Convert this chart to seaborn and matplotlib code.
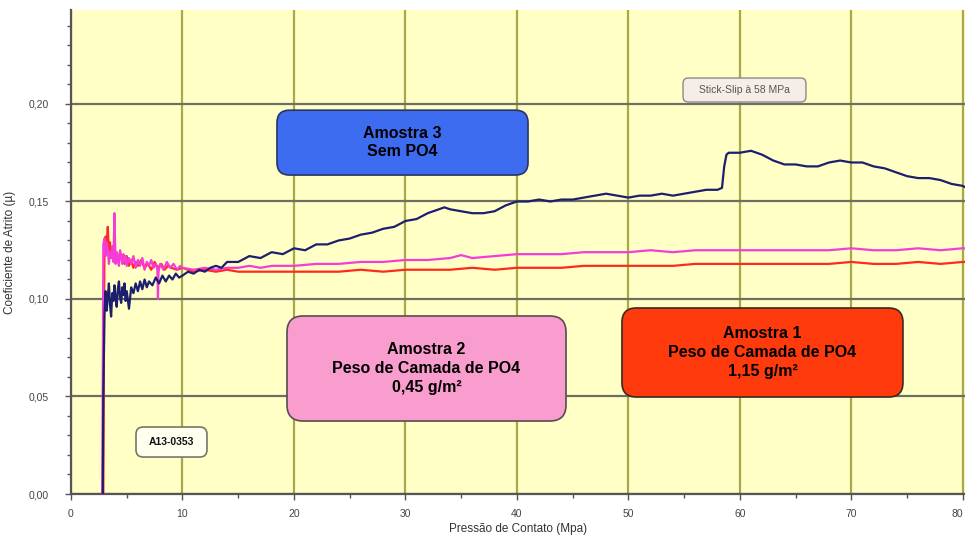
import matplotlib
matplotlib.use("Agg")
import matplotlib.pyplot as plt
import seaborn as sns
import pandas as pd
from matplotlib.patches import FancyBboxPatch
from matplotlib.ticker import MultipleLocator, FuncFormatter

# ---------------- data ----------------
a3_x = [2.85, 2.9, 3.0, 3.1, 3.2, 3.3, 3.4, 3.5, 3.6, 3.7, 3.8, 3.9, 4.0, 4.1, 4.2, 4.3,
        4.4, 4.5, 4.6, 4.7, 4.8, 4.9, 5.0, 5.2, 5.4, 5.6, 5.8, 6.0, 6.2, 6.4, 6.6, 6.8,
        7.0, 7.3, 7.6, 7.9, 8.2, 8.5, 8.8, 9.1, 9.4, 9.7, 10, 10.5, 11, 11.5, 12, 12.5,
        13, 13.5, 14, 15, 16, 17, 18, 19, 20, 21, 22, 23, 24, 25, 26, 27, 28, 29, 30,
        31, 32, 33, 33.5, 34, 35, 36, 37, 38, 39, 40, 41, 42, 43, 44, 45, 46, 47, 48,
        49, 50, 51, 52, 53, 54, 55, 56, 57, 58, 58.4, 58.6, 58.8, 59, 60, 61, 62, 63,
        64, 65, 66, 67, 68, 69, 70, 71, 72, 73, 74, 75, 76, 77, 78, 79, 80, 80.3]
a3_y = [0.0, 0.05, 0.092, 0.104, 0.094, 0.101, 0.108, 0.097, 0.091, 0.103, 0.099, 0.107,
        0.100, 0.096, 0.105, 0.109, 0.101, 0.098, 0.106, 0.102, 0.108, 0.099, 0.104,
        0.095, 0.106, 0.103, 0.108, 0.104, 0.109, 0.105, 0.110, 0.106, 0.109, 0.107,
        0.111, 0.108, 0.112, 0.109, 0.112, 0.110, 0.113, 0.111, 0.112, 0.114, 0.113,
        0.115, 0.114, 0.116, 0.117, 0.116, 0.119, 0.119, 0.122, 0.121, 0.124, 0.123,
        0.126, 0.125, 0.128, 0.128, 0.130, 0.131, 0.133, 0.134, 0.136, 0.137, 0.140,
        0.141, 0.144, 0.146, 0.147, 0.146, 0.145, 0.144, 0.144, 0.145, 0.148, 0.150,
        0.150, 0.151, 0.150, 0.151, 0.151, 0.152, 0.153, 0.154, 0.153, 0.152, 0.153,
        0.153, 0.154, 0.153, 0.154, 0.155, 0.156, 0.156, 0.157, 0.168, 0.174, 0.175,
        0.175, 0.176, 0.174, 0.171, 0.169, 0.169, 0.168, 0.168, 0.170, 0.171, 0.170,
        0.170, 0.168, 0.167, 0.165, 0.163, 0.162, 0.162, 0.161, 0.159, 0.158, 0.157]

a2_x = [2.8, 2.85, 2.9, 3.0, 3.1, 3.2, 3.3, 3.4, 3.5, 3.6, 3.7, 3.8, 3.9, 3.95, 4.0, 4.1,
        4.2, 4.3, 4.4, 4.5, 4.6, 4.7, 4.8, 4.9, 5.0, 5.2, 5.4, 5.6, 5.8, 6.0, 6.2, 6.4,
        6.6, 6.8, 7.0, 7.2, 7.4, 7.6, 7.75, 7.8, 7.85, 8.0, 8.3, 8.6, 8.9, 9.2, 9.5, 9.8,
        10, 11, 12, 13, 14, 15, 16, 17, 18, 19, 20, 22, 24, 26, 28, 30, 32, 34, 35, 36,
        38, 40, 42, 44, 46, 48, 50, 52, 54, 56, 58, 60, 62, 64, 66, 68, 70, 72, 74, 76,
        78, 80, 80.3]
a2_y = [0.0, 0.06, 0.128, 0.131, 0.122, 0.129, 0.126, 0.118, 0.124, 0.121, 0.127, 0.119,
        0.144, 0.130, 0.118, 0.124, 0.120, 0.117, 0.125, 0.122, 0.118, 0.123, 0.119,
        0.122, 0.117, 0.121, 0.118, 0.122, 0.116, 0.120, 0.117, 0.121, 0.115, 0.119,
        0.117, 0.120, 0.116, 0.118, 0.115, 0.100, 0.114, 0.118, 0.115, 0.119, 0.116,
        0.118, 0.115, 0.117, 0.116, 0.115, 0.116, 0.115, 0.116, 0.116, 0.117, 0.116,
        0.117, 0.117, 0.117, 0.118, 0.118, 0.119, 0.119, 0.120, 0.120, 0.121, 0.1225,
        0.121, 0.122, 0.123, 0.123, 0.123, 0.124, 0.124, 0.124, 0.125, 0.124, 0.125,
        0.125, 0.125, 0.125, 0.125, 0.125, 0.125, 0.126, 0.125, 0.125, 0.126, 0.125,
        0.126, 0.126]

a1_x = [2.9, 2.95, 3.0, 3.1, 3.2, 3.3, 3.4, 3.5, 3.6, 3.7, 3.8, 3.9, 4.0, 4.2, 4.4, 4.6,
        4.8, 5.0, 5.2, 5.4, 5.6, 5.8, 6.0, 6.3, 6.6, 6.9, 7.2, 7.5, 7.8, 8.1, 8.4, 8.7,
        9.0, 9.5, 10, 11, 12, 13, 14, 15, 16, 18, 20, 22, 24, 26, 28, 30, 32, 34, 36,
        38, 40, 42, 44, 46, 48, 50, 52, 54, 56, 58, 60, 62, 64, 66, 68, 70, 72, 74, 76,
        78, 80, 80.3]
a1_y = [0.0, 0.07, 0.125, 0.132, 0.128, 0.137, 0.124, 0.129, 0.121, 0.126, 0.120, 0.125,
        0.122, 0.119, 0.124, 0.120, 0.118, 0.122, 0.117, 0.120, 0.116, 0.119, 0.117,
        0.120, 0.116, 0.118, 0.115, 0.119, 0.116, 0.118, 0.115, 0.117, 0.116, 0.115,
        0.116, 0.114, 0.115, 0.114, 0.115, 0.114, 0.114, 0.114, 0.114, 0.114, 0.114,
        0.115, 0.114, 0.115, 0.115, 0.115, 0.116, 0.115, 0.116, 0.116, 0.116, 0.117,
        0.117, 0.117, 0.117, 0.117, 0.118, 0.118, 0.118, 0.118, 0.118, 0.118, 0.118,
        0.119, 0.118, 0.118, 0.119, 0.118, 0.119, 0.119]

series_names = ["Amostra 1", "Amostra 2", "Amostra 3"]
series_colors = ["#ff2a1e", "#f53cd8", "#1b1f6e"]

x_ticks = [0, 10, 20, 30, 40, 50, 60, 70, 80]
y_ticks = [0.0, 0.05, 0.10, 0.15, 0.20]

x_label = "Pressão de Contato (Mpa)"
y_label = "Coeficiente de Atrito (µ)"

box_texts = ["Amostra 3\nSem PO4",
             "Amostra 2\nPeso de Camada de PO4\n0,45 g/m²",
             "Amostra 1\nPeso de Camada de PO4\n1,15 g/m²"]
stick_text = "Stick-Slip à 58 MPa"
sample_id = "A13-0353"

# ---------------- build table ----------------
frames = []
for name, xs, ys in [("Amostra 1", a1_x, a1_y), ("Amostra 2", a2_x, a2_y),
                     ("Amostra 3", a3_x, a3_y)]:
    assert len(xs) == len(ys), (name, len(xs), len(ys))
    frames.append(pd.DataFrame({"x": xs, "y": ys, "serie": name}))
df = pd.concat(frames, ignore_index=True)

# ---------------- plot ----------------
sns.set_theme(style="white")
plt.rcParams["font.family"] = ["Liberation Sans", "DejaVu Sans"]

fig = plt.figure(figsize=(9.65, 5.41), dpi=100)
ax = fig.add_axes([71 / 965, 1 - 494 / 541, 894 / 965, 484 / 541])
ax.set_facecolor("#ffffc6")

sns.lineplot(data=df, x="x", y="y", hue="serie", hue_order=series_names,
             palette=dict(zip(series_names, series_colors)), sort=False,
             estimator=None, linewidth=1.6, legend=False, ax=ax, zorder=3)

ax.set_xlim(0, 80.2)
ax.set_ylim(0, 0.2482)
ax.set_xticks(x_ticks)
ax.set_yticks(y_ticks)
ax.xaxis.set_minor_locator(MultipleLocator(5))
ax.yaxis.set_minor_locator(MultipleLocator(0.01))
ax.yaxis.set_major_formatter(FuncFormatter(lambda v, p: f"{v:.2f}".replace(".", ",")))
ax.xaxis.set_major_formatter(FuncFormatter(lambda v, p: f"{v:.0f}"))

ax.grid(False)
ax.grid(axis="y", which="major", color="#6e6e62", linewidth=1.6, zorder=1)
ax.grid(axis="x", which="major", color="#a8a84a", linewidth=1.6, zorder=1)
ax.set_axisbelow(True)

for s in ["top", "right"]:
    ax.spines[s].set_visible(False)
for s in ["left", "bottom"]:
    ax.spines[s].set_color("#555555")
    ax.spines[s].set_linewidth(1.6)

ax.tick_params(axis="both", which="major", direction="out", length=4, width=1,
               color="#555555", labelsize=7.5, labelcolor="#444444")
ax.tick_params(axis="both", which="minor", direction="out", length=3, width=1,
               color="#555555")
ax.tick_params(axis="y", which="major", pad=12)
ax.tick_params(axis="x", which="major", pad=7)
ax.tick_params(left=True, bottom=True, which="both")

# keep the last x tick label fully inside the figure
fig.canvas.draw()
ax.get_xticklabels()[-1].set_horizontalalignment("right")

ax.set_xlabel(x_label, fontsize=8.5, color="#333333", labelpad=3)
ax.set_ylabel(y_label, fontsize=8.5, color="#333333", labelpad=9)


def add_box(x0, y0, x1, y1, face, edge, text, size, weight="bold", tcolor="black",
            lw=1.2, rad=0.012, ls=1.3):
    p = FancyBboxPatch((x0, y0), x1 - x0, y1 - y0,
                       boxstyle=f"round,pad=0,rounding_size={rad}",
                       transform=ax.transAxes, facecolor=face, edgecolor=edge,
                       linewidth=lw, zorder=5, mutation_aspect=894 / 484)
    ax.add_patch(p)
    ax.text((x0 + x1) / 2, (y0 + y1) / 2, text, transform=ax.transAxes,
            ha="center", va="center", fontsize=size, fontweight=weight,
            color=tcolor, linespacing=ls, zorder=6)


add_box(0.2304, 0.659, 0.5112, 0.793, "#3d6cf0", "#2a3566", box_texts[0], 11.5, rad=0.014)
add_box(0.2416, 0.1508, 0.5537, 0.3678, "#f99dcf", "#5a4a50", box_texts[1], 11.5, rad=0.018)
add_box(0.6163, 0.2004, 0.9306, 0.3843, "#ff3a0c", "#3a2a20", box_texts[2], 11.5, rad=0.016)
add_box(0.6846, 0.8099, 0.8221, 0.8595, "#f6eee6", "#8a8a8a", stick_text, 7.5,
        weight="normal", tcolor="#555555", lw=1.0, rad=0.006)
add_box(0.0727, 0.0764, 0.1521, 0.1384, "#fffff0", "#777766", sample_id, 7.5,
        tcolor="#111111", lw=1.2, rad=0.008)

fig.savefig("out.png", dpi=100)
